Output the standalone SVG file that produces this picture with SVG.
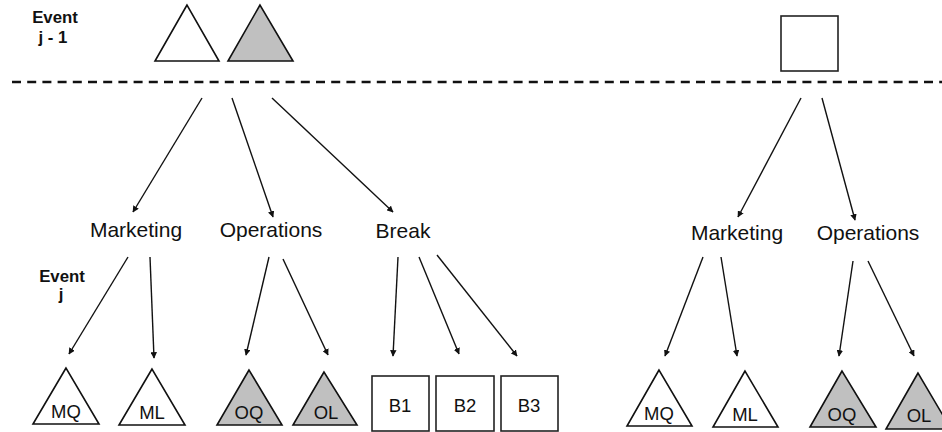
<svg xmlns="http://www.w3.org/2000/svg" width="942" height="432" viewBox="0 0 942 432">
<style>
.lbl{font-family:"Liberation Sans",Arial,sans-serif;font-size:21px;fill:#111;text-anchor:middle}
.ev{font-family:"Liberation Sans",Arial,sans-serif;font-size:16.8px;font-weight:bold;fill:#111;text-anchor:middle}
.nt{font-family:"Liberation Sans",Arial,sans-serif;font-size:18.5px;fill:#111;text-anchor:middle}
.tw{fill:#fff;stroke:#111;stroke-width:1.6;stroke-linejoin:miter}
.tg{fill:#c0c0c0;stroke:#111;stroke-width:1.6}
.bx{fill:#fff;stroke:#222;stroke-width:1.6}
.ar{stroke:#111;stroke-width:1.4;fill:none;marker-end:url(#ah)}
</style>
<defs>
<marker id="ah" viewBox="0 0 10 10" refX="9" refY="5" markerWidth="6.5" markerHeight="6.5" markerUnits="userSpaceOnUse" orient="auto">
<path d="M0,0 L10,5 L0,10 z" fill="#111"/>
</marker>
</defs>
<rect width="942" height="432" fill="#fff"/>
<g id="event-j-1"><text class="ev" x="55" y="23">Event</text><text class="ev" x="53" y="43">j - 1</text></g>
<g id="event-j"><text class="ev" x="62" y="282">Event</text><text class="ev" x="61" y="300">j</text></g>
<line x1="12" y1="82" x2="942" y2="82" stroke="#111" stroke-width="2.6" stroke-dasharray="9 6.2"/>
<g id="top-white-tri"><polygon class="tw" points="187,5 155,61 219,61"/></g>
<g id="top-gray-tri"><polygon class="tg" points="260,5 228,61 293,61"/></g>
<g id="top-square"><rect class="bx" x="781" y="16" width="57" height="55"/></g>
<g id="marketing-l"><text class="lbl" x="136" y="237">Marketing</text></g>
<g id="operations-l"><text class="lbl" x="271" y="237">Operations</text></g>
<g id="break"><text class="lbl" x="403" y="238">Break</text></g>
<g id="marketing-r"><text class="lbl" x="737" y="240">Marketing</text></g>
<g id="operations-r"><text class="lbl" x="868" y="240">Operations</text></g>
<g id="mq-l"><polygon class="tw" points="66,368 33,424 99,424"/><text class="nt" x="66" y="418">MQ</text></g>
<g id="ml-l"><polygon class="tw" points="152,369 119,425 185,425"/><text class="nt" x="152" y="419">ML</text></g>
<g id="oq-l"><polygon class="tg" points="249,370 217,425 282,425"/><text class="nt" x="249" y="419">OQ</text></g>
<g id="ol-l"><polygon class="tg" points="324,372 293,425 357,425"/><text class="nt" x="326" y="419">OL</text></g>
<g id="b1"><rect class="bx" x="372" y="376" width="57" height="55"/><text class="nt" x="400" y="412">B1</text></g>
<g id="b2"><rect class="bx" x="436" y="376" width="58" height="55"/><text class="nt" x="465" y="412">B2</text></g>
<g id="b3"><rect class="bx" x="501" y="376" width="57" height="55"/><text class="nt" x="529" y="412">B3</text></g>
<g id="mq-r"><polygon class="tw" points="659,370 627,426 692,426"/><text class="nt" x="659" y="420">MQ</text></g>
<g id="ml-r"><polygon class="tw" points="745,371 713,427 778,427"/><text class="nt" x="745" y="421">ML</text></g>
<g id="oq-r"><polygon class="tg" points="842,371 810,427 876,427"/><text class="nt" x="842" y="421">OQ</text></g>
<g id="ol-r"><polygon class="tg" points="918,373 886,429 951,429"/><text class="nt" x="919" y="422">OL</text></g>
<g id="connectors">
<line class="ar" x1="202" y1="98" x2="133" y2="212"/>
<line class="ar" x1="232" y1="98" x2="273" y2="217"/>
<line class="ar" x1="272" y1="98" x2="393" y2="212"/>
<line class="ar" x1="801" y1="98" x2="738" y2="217"/>
<line class="ar" x1="822" y1="98" x2="855" y2="220"/>
<line class="ar" x1="128" y1="257" x2="69" y2="354"/>
<line class="ar" x1="150" y1="257" x2="154" y2="358"/>
<line class="ar" x1="269" y1="257" x2="246" y2="355"/>
<line class="ar" x1="283" y1="259" x2="328" y2="355"/>
<line class="ar" x1="398" y1="257" x2="393" y2="356"/>
<line class="ar" x1="419" y1="257" x2="459" y2="354"/>
<line class="ar" x1="437" y1="255" x2="517" y2="356"/>
<line class="ar" x1="703" y1="257" x2="665" y2="356"/>
<line class="ar" x1="721" y1="257" x2="737" y2="356"/>
<line class="ar" x1="853" y1="261" x2="839" y2="356"/>
<line class="ar" x1="868" y1="261" x2="914" y2="356"/>
</g>
</svg>
